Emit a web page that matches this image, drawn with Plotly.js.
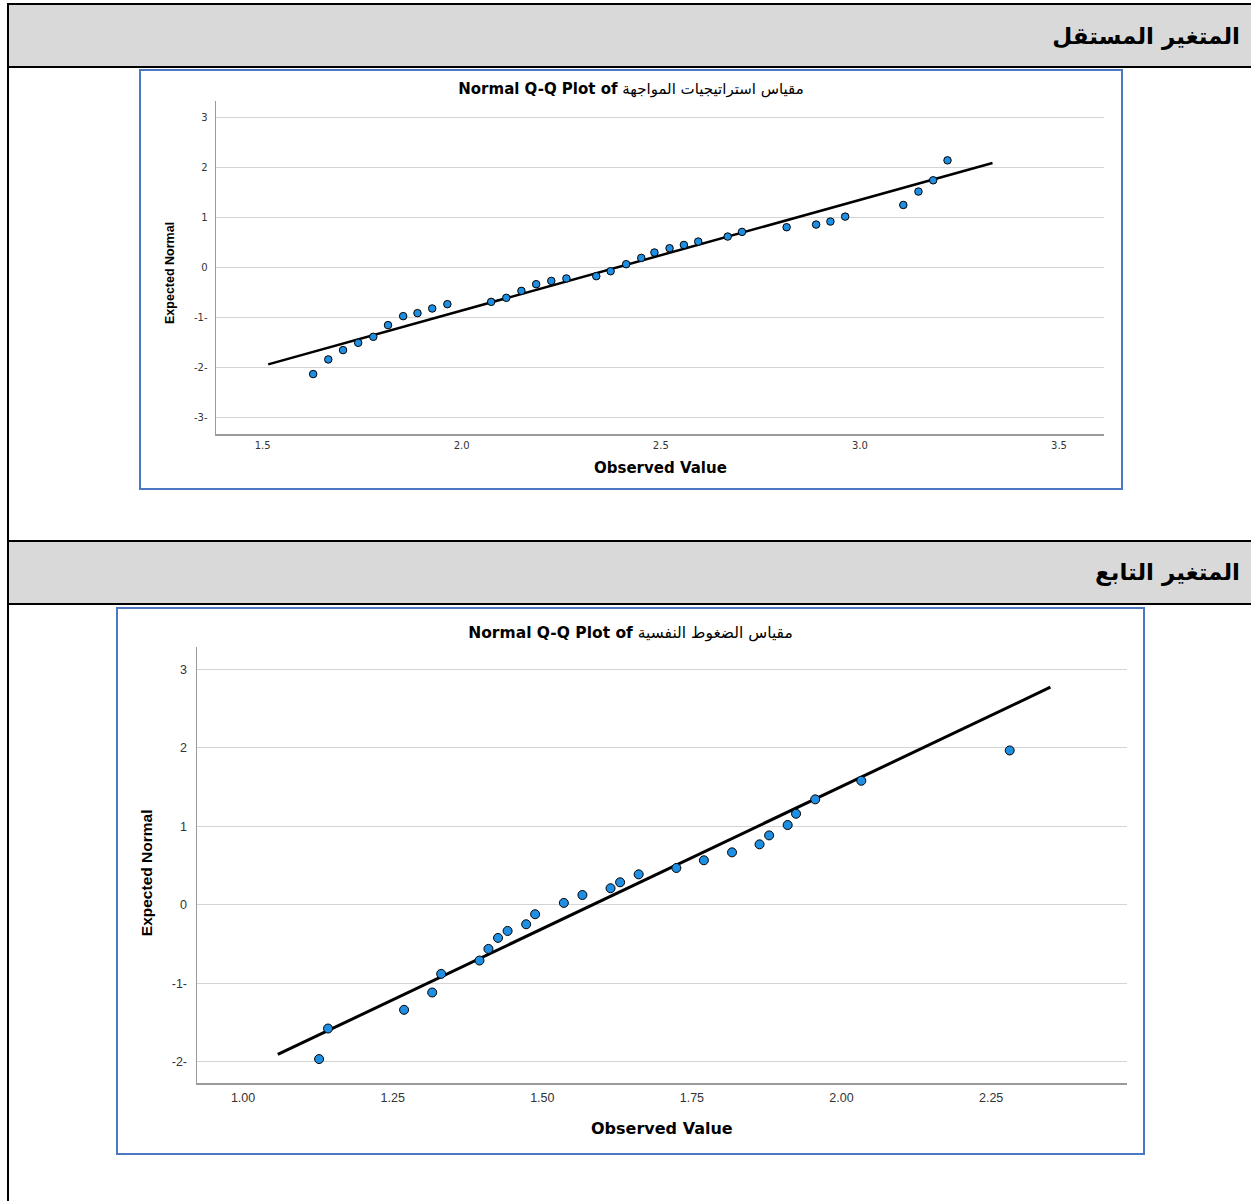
<!DOCTYPE html>
<html>
<head>
<meta charset="utf-8">
<script src="https://cdn.plot.ly/plotly-3.0.1.min.js"></script>
<style>
  html, body { margin: 0; padding: 0; background: #ffffff; width: 1251px; height: 1201px; overflow: hidden; }
  .abs { position: absolute; }
  .blk { position: absolute; background: #000; }
  .hdr { position: absolute; background: #d9d9d9; left: 9px; width: 1242px; }
  .hdrtxt { position: absolute; right: 11px; direction: rtl; font-family: "DejaVu Sans", sans-serif; font-weight: bold; font-size: 23px; color: #000; white-space: nowrap; }
  .box { position: absolute; border: 2px solid #4a78c4; box-sizing: border-box; pointer-events: none; }
</style>
</head>
<body>
<!-- table structure -->
<div class="blk" style="left:7px; top:3px; width:1244px; height:2px;"></div>
<div class="blk" style="left:7px; top:3px; width:2px; height:1198px;"></div>
<div class="hdr" style="top:5px; height:61px;"><div class="hdrtxt" style="top:18px;">المتغير المستقل</div></div>
<div class="blk" style="left:7px; top:66px; width:1244px; height:2px;"></div>
<div class="blk" style="left:7px; top:540px; width:1244px; height:2px;"></div>
<div class="hdr" style="top:542px; height:61px;"><div class="hdrtxt" style="top:17px;">المتغير التابع</div></div>
<div class="blk" style="left:7px; top:603px; width:1244px; height:2px;"></div>

<div id="chart1" class="abs" style="left:139px; top:69px; width:984px; height:421px;"></div>
<div class="box" style="left:139px; top:69px; width:984px; height:421px;"></div>
<div id="chart2" class="abs" style="left:116px; top:607px; width:1029px; height:548px;"></div>
<div class="box" style="left:116px; top:607px; width:1029px; height:548px;"></div>

<script>
// ---- Chart 1 data: مقياس استراتيجيات المواجهة ----
const title1Arabic = "مقياس استراتيجيات المواجهة";
const observed1 = [1.627,1.665,1.702,1.740,1.778,1.815,1.853,1.889,1.926,1.964,2.074,2.112,2.150,2.187,2.225,2.263,2.338,2.374,2.413,2.451,2.484,2.522,2.558,2.594,2.668,2.704,2.816,2.890,2.926,2.963,3.109,3.147,3.184,3.220];
const expected1 = [-2.125,-1.833,-1.647,-1.502,-1.382,-1.149,-0.970,-0.910,-0.817,-0.731,-0.685,-0.605,-0.466,-0.333,-0.267,-0.219,-0.173,-0.074,0.066,0.191,0.299,0.384,0.450,0.517,0.617,0.710,0.803,0.856,0.916,1.015,1.247,1.514,1.739,2.137];
const line1X = [1.514, 3.333];
const line1Y = [-1.932, 2.084];
const yTicks1 = [-3,-2,-1,0,1,2,3];
const yTickText1 = ["-3-","-2-","-1-","0","1","2","3"];
const xTicks1 = [1.5,2.0,2.5,3.0,3.5];
const xTickText1 = ["1.5","2.0","2.5","3.0","3.5"];

// ---- Chart 2 data: مقياس الضغوط النفسية ----
const title2Arabic = "مقياس الضغوط النفسية";
const observed2 = [1.127,1.142,1.269,1.316,1.331,1.395,1.410,1.426,1.442,1.473,1.488,1.536,1.567,1.614,1.630,1.661,1.724,1.770,1.817,1.863,1.879,1.910,1.924,1.956,2.033,2.281];
const expected2 = [-1.967,-1.578,-1.340,-1.119,-0.882,-0.712,-0.564,-0.424,-0.335,-0.250,-0.122,0.022,0.123,0.209,0.285,0.386,0.467,0.565,0.666,0.768,0.882,1.014,1.158,1.341,1.578,1.964];
const line2X = [1.058, 2.349];
const line2Y = [-1.908, 2.770];
const yTicks2 = [-2,-1,0,1,2,3];
const yTickText2 = ["-2-","-1-","0","1","2","3"];
const xTicks2 = [1.00,1.25,1.50,1.75,2.00,2.25];
const xTickText2 = ["1.00","1.25","1.50","1.75","2.00","2.25"];

const markerBlue = "#1e8fe3";
const cfg = {staticPlot: true, displayModeBar: false};

function makeChart(id, o) {
  const traces = [
    {x: o.lx, y: o.ly, type: "scatter", mode: "lines",
     line: {color: "#000000", width: o.lw}, hoverinfo: "skip", showlegend: false},
    {x: o.ox, y: o.ey, type: "scatter", mode: "markers",
     marker: {color: markerBlue, size: o.ms, line: {color: "#000000", width: 1}},
     showlegend: false}
  ];
  const layout = {
    width: o.w, height: o.h,
    margin: {l: o.m.l, r: o.m.r, t: o.m.t, b: o.m.b, pad: 0},
    paper_bgcolor: "rgba(0,0,0,0)", plot_bgcolor: "#ffffff",
    showlegend: false,
    title: {
      text: "<b>Normal Q-Q Plot of</b> " + o.arabic,
      font: {family: "DejaVu Sans, sans-serif", size: o.tfs, color: "#000000"},
      x: 0.5, xanchor: "center", xref: "container",
      y: o.ty, yanchor: "middle", yref: "container"
    },
    xaxis: {
      range: o.xr, tickvals: o.xt, ticktext: o.xtt,
      showgrid: false, zeroline: false,
      showline: true, linecolor: "#9a9a9a", linewidth: 1.5,
      ticks: "", ticklabelstandoff: o.xstand,
      tickfont: {family: o.tickfam, size: o.tkfs, color: "#333333"},
      title: {text: ""}
    },
    yaxis: {
      range: o.yr, tickvals: o.yt, ticktext: o.ytt,
      showgrid: true, gridcolor: "#d4d4d4", gridwidth: 1,
      zeroline: false,
      showline: true, linecolor: "#9a9a9a", linewidth: 1.5,
      ticks: "", ticklabelstandoff: o.ystand,
      tickfont: {family: o.tickfam, size: o.tkfs, color: "#333333"},
      title: {text: ""}
    },
    annotations: [
      {text: "<b>Observed Value</b>", xref: "paper", yref: "paper",
       x: 0.5, y: o.xtitY, xanchor: "center", yanchor: "middle", showarrow: false,
       font: {family: "DejaVu Sans, sans-serif", size: o.xtfs, color: "#000000"}},
      {text: "<b>Expected Normal</b>", xref: "paper", yref: "paper",
       x: o.ytitX, y: o.ytitY, xanchor: "center", yanchor: "middle", showarrow: false,
       textangle: -90,
       font: {family: "Liberation Sans Narrow, Arial Narrow, Liberation Sans, sans-serif", size: o.ytfs, color: "#000000"}}
    ]
  };
  Plotly.newPlot(id, traces, layout, cfg);
}

makeChart("chart1", {
  w: 984, h: 421, m: {l: 77, r: 19, t: 32, b: 56},
  ox: observed1, ey: expected1, lx: line1X, ly: line1Y, lw: 2.5, ms: 7.5,
  arabic: title1Arabic, tfs: 15, ty: 0.952,
  xr: [1.383, 3.613], xt: xTicks1, xtt: xTickText1,
  yr: [-3.32, 3.32], yt: yTicks1, ytt: yTickText1,
  tickfam: "DejaVu Sans, sans-serif", tkfs: 10, xstand: 1, ystand: 5,
  xtitY: -0.102, xtfs: 15,
  ytitX: -0.052, ytitY: 0.483, ytfs: 12.5
});

makeChart("chart2", {
  w: 1029, h: 548, m: {l: 81, r: 18, t: 40, b: 72},
  ox: observed2, ey: expected2, lx: line2X, ly: line2Y, lw: 3, ms: 9,
  arabic: title2Arabic, tfs: 15.5, ty: 0.9526,
  xr: [0.923, 2.477], xt: xTicks2, xtt: xTickText2,
  yr: [-2.272, 3.282], yt: yTicks2, ytt: yTickText2,
  tickfam: "Liberation Sans, Arial, sans-serif", tkfs: 12.5, xstand: 2, ystand: 6,
  xtitY: -0.105, xtfs: 16,
  ytitX: -0.0534, ytitY: 0.482, ytfs: 15.5
});
</script>
</body>
</html>
